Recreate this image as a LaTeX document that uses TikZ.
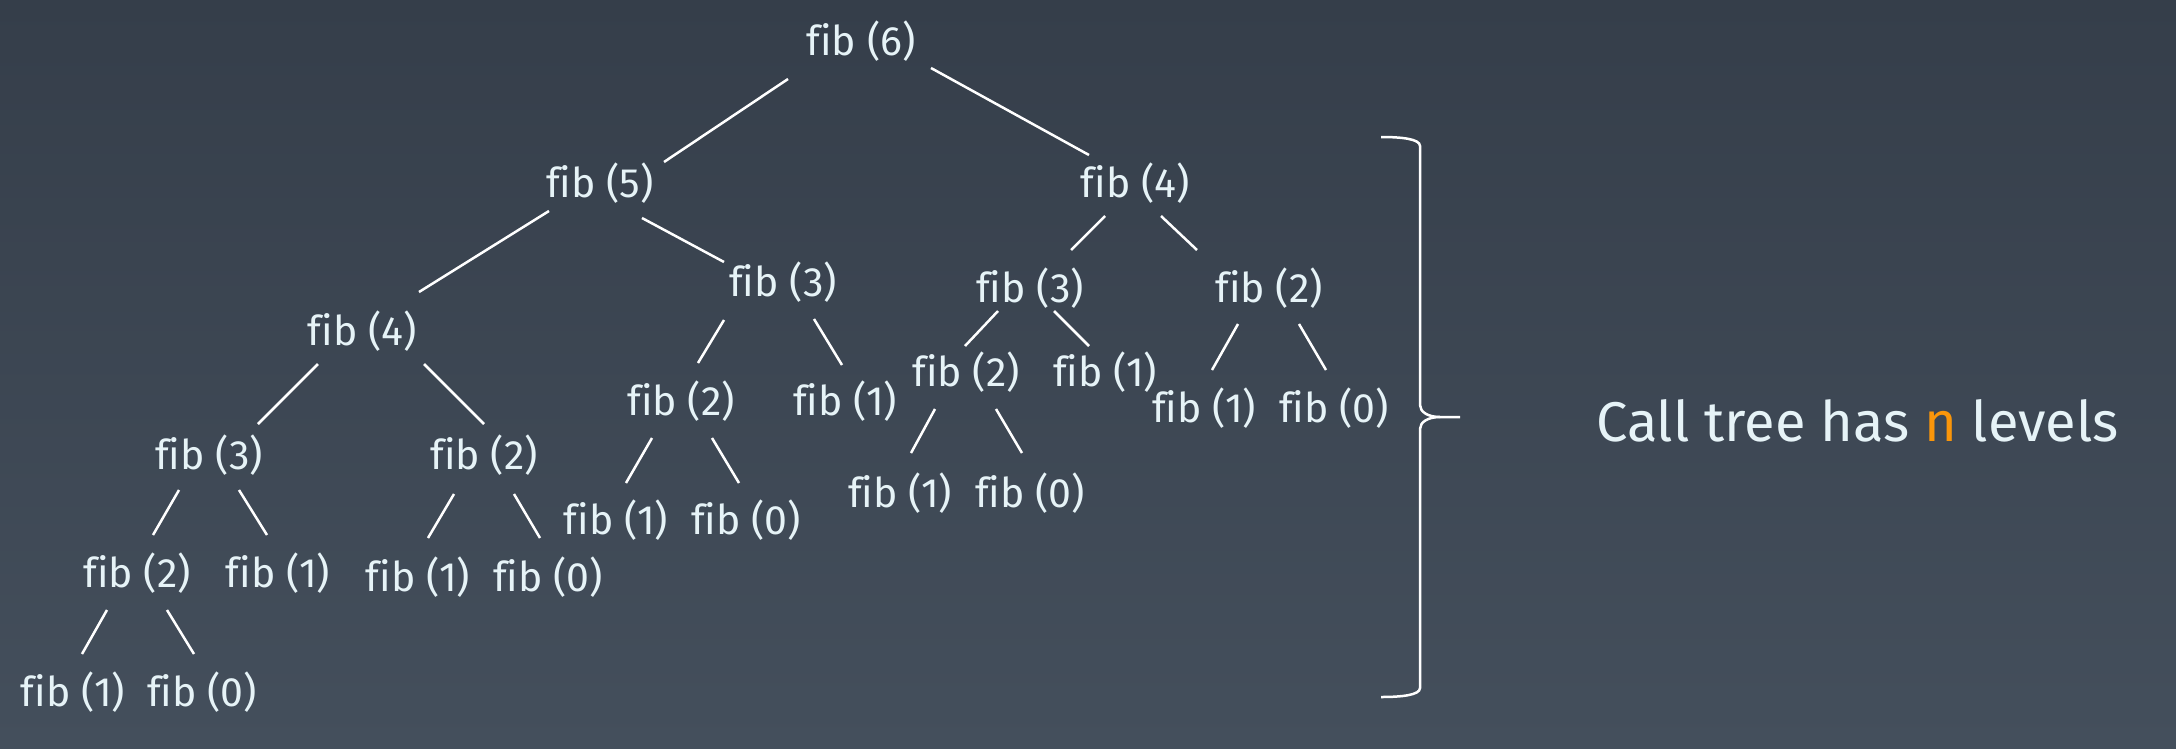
\documentclass[tikz,border=0pt]{standalone}
\usepackage{fontspec}
\setmainfont{Fira Sans}[Ligatures=NoCommon]
\definecolor{bgtop}{RGB}{53,62,74}
\definecolor{bgbot}{RGB}{68,79,92}
\definecolor{txt}{RGB}{230,243,247}
\definecolor{accent}{RGB}{250,150,10}
\tikzset{
  fib/.style={text=txt, inner sep=0pt, font=\fontsize{41}{41}\selectfont},
  link/.style={draw=white, line width=2.5pt},
  bracket/.style={draw=white, line width=2.5pt},
  caption/.style={text=txt, inner sep=0pt, font=\fontsize{56}{56}\selectfont}
}
\begin{document}
\begin{tikzpicture}[x=1pt,y=-1pt]
\shade[top color=bgtop,bottom color=bgbot] (0,0) rectangle (2176,748);
\useasboundingbox (0,0) rectangle (2176,748);
% nodes
\node[fib] (n6)   at (861,41)  {fib (6)};
\node[fib] (n5)   at (600,183) {fib (5)};
\node[fib] (n4R)  at (1135,183) {fib (4)};
\node[fib] (n4L)  at (362,331) {fib (4)};
\node[fib] (n3M)  at (783,282) {fib (3)};
\node[fib] (n3R)  at (1030,288) {fib (3)};
\node[fib] (n2FR) at (1269,288) {fib (2)};
\node[fib] (n3L)  at (209,455) {fib (3)};
\node[fib] (n2L2) at (484,455) {fib (2)};
\node[fib] (n2M)  at (681,401) {fib (2)};
\node[fib] (n1M)  at (845,401) {fib (1)};
\node[fib] (n2R)  at (966,372) {fib (2)};
\node[fib] (n1R)  at (1105,372) {fib (1)};
\node[fib] (n1FR) at (1204,408) {fib (1)};
\node[fib] (n0FR) at (1334,408) {fib (0)};
\node[fib] (n2LL) at (137,573) {fib (2)};
\node[fib] (n1c)  at (278,573) {fib (1)};
\node[fib] (n1d)  at (418,577) {fib (1)};
\node[fib] (n0d)  at (548,577) {fib (0)};
\node[fib] (n1a)  at (616,520) {fib (1)};
\node[fib] (n0a)  at (746,520) {fib (0)};
\node[fib] (n1b)  at (900,493) {fib (1)};
\node[fib] (n0b)  at (1030,493) {fib (0)};
\node[fib] (n1e)  at (73,692) {fib (1)};
\node[fib] (n0e)  at (202,692) {fib (0)};
% connectors
\draw[link] ([shift={(-73,38)}]n6.center) -- ([shift={(64,-21)}]n5.center);
\draw[link] ([shift={(70,27)}]n6.center) -- ([shift={(-46,-28)}]n4R.center);
\draw[link] ([shift={(-51,28)}]n5.center) -- ([shift={(57,-39)}]n4L.center);
\draw[link] ([shift={(42,35)}]n5.center) -- ([shift={(-59,-20)}]n3M.center);
\draw[link] ([shift={(-30,33)}]n4R.center) -- ([shift={(41,-38)}]n3R.center);
\draw[link] ([shift={(26,33)}]n4R.center) -- ([shift={(-72,-38)}]n2FR.center);
\draw[link] ([shift={(-44,33)}]n4L.center) -- ([shift={(49,-31)}]n3L.center);
\draw[link] ([shift={(62,33)}]n4L.center) -- ([shift={(0,-31)}]n2L2.center);
\draw[link] ([shift={(-59,38)}]n3M.center) -- ([shift={(17,-38)}]n2M.center);
\draw[link] ([shift={(31,37)}]n3M.center) -- ([shift={(-3,-36)}]n1M.center);
\draw[link] ([shift={(-32,23)}]n3R.center) -- ([shift={(-1,-26)}]n2R.center);
\draw[link] ([shift={(24,23)}]n3R.center) -- ([shift={(-16,-26)}]n1R.center);
\draw[link] ([shift={(-31,36)}]n2FR.center) -- ([shift={(8,-38)}]n1FR.center);
\draw[link] ([shift={(30,36)}]n2FR.center) -- ([shift={(-8,-38)}]n0FR.center);
\draw[link] ([shift={(-29,37)}]n2M.center) -- ([shift={(10,-37)}]n1a.center);
\draw[link] ([shift={(31,37)}]n2M.center) -- ([shift={(-7,-37)}]n0a.center);
\draw[link] ([shift={(-31,37)}]n2R.center) -- ([shift={(11,-40)}]n1b.center);
\draw[link] ([shift={(30,37)}]n2R.center) -- ([shift={(-8,-40)}]n0b.center);
\draw[link] ([shift={(-30,35)}]n3L.center) -- ([shift={(16,-38)}]n2LL.center);
\draw[link] ([shift={(30,35)}]n3L.center) -- ([shift={(-11,-38)}]n1c.center);
\draw[link] ([shift={(-30,39)}]n2L2.center) -- ([shift={(10,-39)}]n1d.center);
\draw[link] ([shift={(30,39)}]n2L2.center) -- ([shift={(-8,-39)}]n0d.center);
\draw[link] ([shift={(-30,37)}]n2LL.center) -- ([shift={(9,-38)}]n1e.center);
\draw[link] ([shift={(30,37)}]n2LL.center) -- ([shift={(-8,-38)}]n0e.center);
% brace
\draw[bracket] (1381,137) .. controls (1402,137) and (1420,139) .. (1420,146)
  -- (1420,405) .. controls (1420,412) and (1428,417) .. (1440,417) -- (1460,417);
\draw[bracket] (1440,417) .. controls (1428,417) and (1420,422) .. (1420,429)
  -- (1420,688) .. controls (1420,695) and (1402,697) .. (1381,697);
% caption
\node[caption, anchor=base west] (cap) at (1596,441) {Call tree has \textcolor{accent}{n} levels};
\end{tikzpicture}
\end{document}
